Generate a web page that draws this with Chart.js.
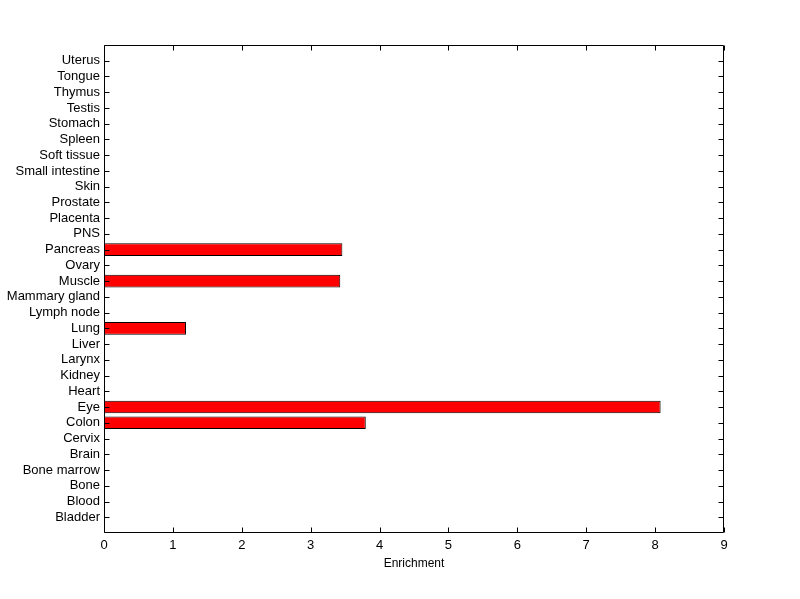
<!DOCTYPE html>
<html>
<head>
<meta charset="utf-8">
<script src="https://cdn.jsdelivr.net/npm/chart.js@4/dist/chart.umd.min.js"></script>
<style>
  html, body { margin: 0; padding: 0; background: #fff; }
  #wrap { width: 800px; height: 599px; }
</style>
</head>
<body>
<div id="wrap"><canvas id="chart" width="800" height="599"></canvas></div>
<script>
// Tissues, bottom to top (as they appear on the y axis)
const tissues = [
    'Bladder', 'Blood', 'Bone', 'Bone marrow', 'Brain', 'Cervix', 'Colon', 'Eye',
    'Heart', 'Kidney', 'Larynx', 'Liver', 'Lung', 'Lymph node', 'Mammary gland',
    'Muscle', 'Ovary', 'Pancreas', 'PNS', 'Placenta', 'Prostate', 'Skin',
    'Small intestine', 'Soft tissue', 'Spleen', 'Stomach', 'Testis', 'Thymus',
    'Tongue', 'Uterus'
];

// Enrichment per tissue, same order
const enrichment = [
    0, 0, 0, 0, 0, 0, 3.80, 8.08,
    0, 0, 0, 0, 1.19, 0, 0,
    3.43, 0, 3.46, 0, 0, 0, 0,
    0, 0, 0, 0, 0, 0,
    0, 0
];

const xTicks = [0, 1, 2, 3, 4, 5, 6, 7, 8, 9];

// Position i+1 on a 0..31 linear axis, like matlab's barh
const points = enrichment.map((v, i) => ({ x: v, y: i + 1 }));

const FONT = { family: '"Liberation Sans", Arial, Helvetica, sans-serif', size: 13 };

// matlab-style box with inward ticks on all four sides
const boxPlugin = {
    id: 'matlabBox',
    afterDatasetsDraw(chart) {
        const { ctx, chartArea: a, scales } = chart;
        const L = Math.round(a.left) + 0.5, R = Math.round(a.right) - 0.5;
        const T = Math.round(a.top) + 0.5, B = Math.round(a.bottom) - 0.5;
        const len = 5;
        ctx.save();
        ctx.strokeStyle = '#000';
        ctx.lineWidth = 1;
        ctx.beginPath();
        ctx.rect(L, T, R - L, B - T);
        // x ticks, top and bottom
        xTicks.forEach(v => {
            const px = Math.round(scales.x.getPixelForValue(v)) + 0.5;
            ctx.moveTo(px, B); ctx.lineTo(px, B - len);
            ctx.moveTo(px, T); ctx.lineTo(px, T + len);
        });
        // y ticks, left and right
        tissues.forEach((_, i) => {
            const py = Math.round(scales.y.getPixelForValue(i + 1)) + 0.5;
            ctx.moveTo(L, py); ctx.lineTo(L + len, py);
            ctx.moveTo(R, py); ctx.lineTo(R - len, py);
        });
        ctx.stroke();
        ctx.restore();
    }
};

new Chart(document.getElementById('chart'), {
    type: 'bar',
    data: {
        datasets: [{
            label: 'Enrichment',
            data: points,
            backgroundColor: '#ff0000',
            borderColor: '#000000',
            borderWidth: 1,
            borderSkipped: false,
            barPercentage: 0.8,
            categoryPercentage: 1.0
        }]
    },
    options: {
        indexAxis: 'y',
        responsive: false,
        animation: false,
        layout: { padding: { left: 0, right: 76, top: 45, bottom: 0 } },
        plugins: {
            legend: { display: false },
            tooltip: { enabled: false }
        },
        scales: {
            x: {
                type: 'linear',
                min: 0,
                max: 9,
                offset: false,
                afterBuildTicks: (scale) => { scale.ticks = xTicks.map(v => ({ value: v })); },
                grid: { display: false, drawTicks: false, offset: false },
                border: { display: false },
                ticks: { color: '#000', font: FONT, padding: 5, maxRotation: 0 },
                title: {
                    display: true,
                    text: 'Enrichment',
                    color: '#000',
                    font: { family: FONT.family, size: 12 },
                    padding: { top: 0, bottom: 28 }
                },
                afterFit: (scale) => { scale.height = 66; }
            },
            y: {
                type: 'linear',
                min: 0,
                max: 31,
                offset: false,
                afterBuildTicks: (scale) => {
                    scale.ticks = tissues.map((_, i) => ({ value: i + 1 }));
                },
                grid: { display: false, drawTicks: false, offset: false },
                border: { display: false },
                ticks: {
                    color: '#000',
                    font: FONT,
                    padding: 4,
                    autoSkip: false,
                    callback: (v) => tissues[v - 1] || ''
                },
                afterFit: (scale) => { scale.width = 104; }
            }
        }
    },
    plugins: [boxPlugin]
});
</script>
</body>
</html>
